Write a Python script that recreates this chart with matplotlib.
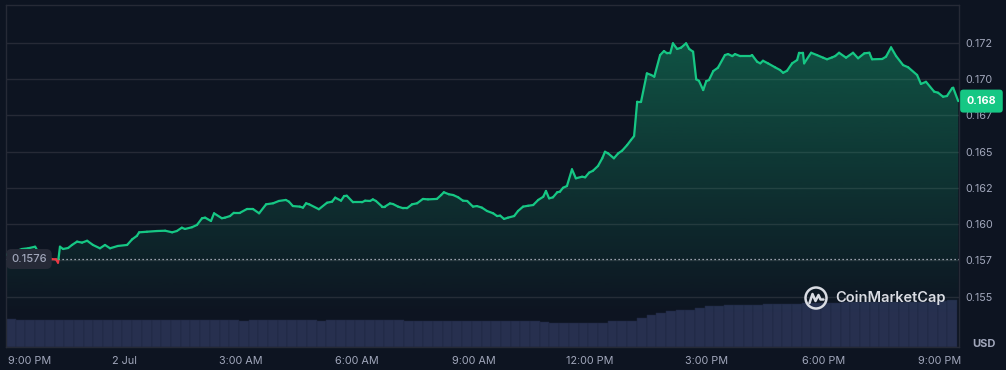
import matplotlib
matplotlib.use('Agg')
import matplotlib.pyplot as plt
from matplotlib.collections import LineCollection
from matplotlib.patches import Ellipse
from matplotlib.lines import Line2D
import matplotlib.colors as mcolors
import numpy as np

# hours since 9:00 PM on 1 Jul
hours = [-0.05, 0.13, 0.36, 0.52, 0.70, 0.75, 0.88, 1.03, 1.13, 1.24,
         1.29, 1.34, 1.42, 1.55, 1.65, 1.78, 1.91, 2.04, 2.19, 2.37,
         2.50, 2.63, 2.83, 3.07, 3.20, 3.32, 3.38, 3.58, 3.84, 4.05,
         4.23, 4.35, 4.48, 4.56, 4.74, 4.87, 5.00, 5.08, 5.23, 5.31,
         5.51, 5.59, 5.72, 5.82, 5.98, 6.16, 6.31, 6.47, 6.65, 6.83,
         6.98, 7.16, 7.24, 7.34, 7.52, 7.60, 7.68, 7.76, 8.01, 8.22,
         8.35, 8.43, 8.58, 8.66, 8.73, 8.89, 8.99, 9.12, 9.20, 9.33,
         9.40, 9.48, 9.64, 9.71, 9.84, 9.92, 10.05, 10.18, 10.28, 10.41,
         10.54, 10.69, 10.82, 11.05, 11.16, 11.23, 11.36, 11.47, 11.60, 11.72,
         11.83, 11.98, 12.08, 12.21, 12.34, 12.50, 12.60, 12.68, 12.78, 12.88,
         13.04, 13.14, 13.27, 13.40, 13.53, 13.66, 13.79, 13.86, 13.94, 14.04,
         14.15, 14.22, 14.30, 14.40, 14.53, 14.63, 14.79, 14.87, 14.97, 15.07,
         15.20, 15.31, 15.38, 15.46, 15.61, 15.72, 15.82, 15.95, 16.05, 16.13,
         16.21, 16.31, 16.46, 16.57, 16.65, 16.80, 16.90, 16.98, 17.06, 17.13,
         17.24, 17.34, 17.47, 17.55, 17.65, 17.73, 17.80, 17.91, 17.99, 18.06,
         18.17, 18.29, 18.47, 18.55, 18.66, 18.73, 18.86, 19.12, 19.17, 19.30,
         19.38, 19.45, 19.58, 19.76, 19.89, 19.97, 20.07, 20.20, 20.33, 20.38,
         20.48, 20.51, 20.69, 20.84, 21.00, 21.10, 21.23, 21.31, 21.41, 21.59,
         21.77, 21.90, 22.06, 22.19, 22.26, 22.52, 22.62, 22.75, 22.88, 23.06,
         23.19, 23.42, 23.52, 23.65, 23.86, 23.96, 24.09, 24.19, 24.32, 24.35,
         24.48]

prices = [0.15788, 0.15806, 0.15829, 0.15834, 0.15845, 0.15822, 0.15802, 0.15775, 0.15759, 0.15758,
          0.15735, 0.15845, 0.15829, 0.15836, 0.15857, 0.15880, 0.15873, 0.15886, 0.15857, 0.15834,
          0.15857, 0.15834, 0.15850, 0.15857, 0.15896, 0.15919, 0.15944, 0.15948, 0.15953, 0.15955,
          0.15944, 0.15953, 0.15976, 0.15967, 0.15979, 0.15995, 0.16041, 0.16045, 0.16022, 0.16075,
          0.16041, 0.16045, 0.16056, 0.16079, 0.16079, 0.16105, 0.16105, 0.16075, 0.16137, 0.16144,
          0.16160, 0.16167, 0.16155, 0.16125, 0.16121, 0.16114, 0.16144, 0.16137, 0.16103, 0.16148,
          0.16155, 0.16183, 0.16162, 0.16194, 0.16196, 0.16151, 0.16151, 0.16151, 0.16162, 0.16160,
          0.16171, 0.16160, 0.16121, 0.16121, 0.16143, 0.16139, 0.16121, 0.16110, 0.16110, 0.16137,
          0.16144, 0.16174, 0.16171, 0.16174, 0.16201, 0.16220, 0.16206, 0.16201, 0.16185, 0.16162,
          0.16160, 0.16121, 0.16125, 0.16114, 0.16091, 0.16075, 0.16056, 0.16059, 0.16036, 0.16045,
          0.16056, 0.16091, 0.16121, 0.16127, 0.16132, 0.16167, 0.16189, 0.16229, 0.16178, 0.16185,
          0.16220, 0.16224, 0.16251, 0.16263, 0.16378, 0.16316, 0.16327, 0.16323, 0.16355, 0.16368,
          0.16401, 0.16454, 0.16499, 0.16488, 0.16454, 0.16488, 0.16506, 0.16545, 0.16580, 0.16607,
          0.16844, 0.16844, 0.17039, 0.17028, 0.17016, 0.17165, 0.17193, 0.17177, 0.17177, 0.17246,
          0.17207, 0.17216, 0.17246, 0.17207, 0.17188, 0.16998, 0.16988, 0.16924, 0.16986, 0.16993,
          0.17055, 0.17078, 0.17165, 0.17172, 0.17158, 0.17172, 0.17158, 0.17158, 0.17165, 0.17119,
          0.17108, 0.17126, 0.17108, 0.17081, 0.17062, 0.17043, 0.17057, 0.17108, 0.17131, 0.17181,
          0.17181, 0.17108, 0.17181, 0.17165, 0.17147, 0.17136, 0.17149, 0.17158, 0.17181, 0.17147,
          0.17181, 0.17143, 0.17177, 0.17181, 0.17136, 0.17138, 0.17154, 0.17218, 0.17158, 0.17096,
          0.17081, 0.17028, 0.16966, 0.16981, 0.16913, 0.16906, 0.16878, 0.16883, 0.16936, 0.16940,
          0.16848]

open_price = 0.1576

# 15-minute volume bars (millions USD)
volume = [0.554, 0.544, 0.534, 0.534, 0.534, 0.534, 0.534, 0.550, 0.540, 0.534,
          0.534, 0.534, 0.534, 0.534, 0.534, 0.534, 0.534, 0.534, 0.534, 0.534,
          0.534, 0.534, 0.534, 0.534, 0.524, 0.534, 0.534, 0.534, 0.534, 0.534,
          0.534, 0.534, 0.514, 0.534, 0.534, 0.534, 0.534, 0.534, 0.534, 0.534,
          0.534, 0.514, 0.528, 0.514, 0.514, 0.514, 0.514, 0.514, 0.514, 0.514,
          0.514, 0.514, 0.514, 0.514, 0.514, 0.500, 0.488, 0.488, 0.488, 0.488,
          0.488, 0.488, 0.514, 0.514, 0.514, 0.574, 0.640, 0.688, 0.714, 0.734,
          0.750, 0.780, 0.814, 0.824, 0.836, 0.848, 0.840, 0.832, 0.854, 0.854,
          0.860, 0.870, 0.880, 0.880, 0.884, 0.890, 0.900, 0.900, 0.900, 0.900,
          0.900, 0.900, 0.900, 0.910, 0.910, 0.910, 0.920, 0.934]

tick_hours = [0, 3, 6, 9, 12, 15, 18, 21, 24]
tick_labels = ['9:00 PM', '2 Jul', '3:00 AM', '6:00 AM', '9:00 AM',
               '12:00 PM', '3:00 PM', '6:00 PM', '9:00 PM']
price_ticks = [0.155, 0.1575, 0.160, 0.1625, 0.165, 0.1675, 0.170, 0.1725]
price_labels = ['0.155', '0.157', '0.160', '0.162', '0.165', '0.167', '0.170', '0.172']

BG = '#0d1421'
GRID = '#262a36'
TEXT = '#a1a7bb'
GREEN = '#16c784'
RED = '#ea3943'
VOL = '#27304f'
XMIN, XMAX = -0.05, 24.50
YMIN, YMAX = 0.15154, 0.17510

plt.rcParams['font.family'] = ['Inter', 'DejaVu Sans']

W, H = 1006, 370
fig = plt.figure(figsize=(W / 100, H / 100), dpi=100, facecolor=BG)
rect = [6 / W, 23 / H, 953 / W, 342 / H]

# volume underneath
ax_vol = fig.add_axes(rect, facecolor=BG)
vol_x = np.arange(len(volume)) * 0.25 + XMIN
ax_vol.bar(vol_x, volume, width=0.25, align='edge', color=VOL,
           edgecolor='#1e2540', linewidth=0.35)
ax_vol.set_xlim(XMIN, XMAX)
ax_vol.set_ylim(0, 6.84)
ax_vol.axis('off')

ax = fig.add_axes(rect, facecolor='none')

# gradient fill under the price line
grad = np.zeros((256, 1, 4))
grad[..., :3] = mcolors.to_rgb(GREEN)
grad[:, 0, 3] = np.linspace(0.40, 0.0, 256)
img = ax.imshow(grad, aspect='auto', origin='upper', zorder=1,
                extent=[XMIN, XMAX, 0.15368, YMAX])
poly = ax.fill_between(hours, prices, YMIN, color='none', linewidth=0)
img.set_clip_path(poly.get_paths()[0], transform=ax.transData)

# line coloured by side of the opening price
segs, cols = [], []
for i in range(len(hours) - 1):
    x0, y0, x1, y1 = hours[i], prices[i], hours[i + 1], prices[i + 1]
    if (y0 - open_price) * (y1 - open_price) < 0:
        t = (open_price - y0) / (y1 - y0)
        xm = x0 + t * (x1 - x0)
        segs.append([(x0, y0), (xm, open_price)])
        cols.append(GREEN if y0 >= open_price else RED)
        segs.append([(xm, open_price), (x1, y1)])
        cols.append(GREEN if y1 >= open_price else RED)
    else:
        segs.append([(x0, y0), (x1, y1)])
        cols.append(GREEN if (y0 + y1) / 2 >= open_price else RED)
lc = LineCollection(segs, colors=cols, linewidths=1.6, capstyle='round',
                    joinstyle='round', zorder=4)
ax.add_collection(lc)

ax.axhline(open_price, color='#c5c9d6', lw=0.9, ls=(0, (1, 2.2)), zorder=3)

ax.set_xlim(XMIN, XMAX)
ax.set_ylim(YMIN, YMAX)

ax.set_yticks(price_ticks)
ax.set_yticklabels(price_labels)
ax.yaxis.tick_right()
ax.yaxis.grid(True, color=GRID, lw=1)
ax.set_axisbelow(True)
ax.set_xticks(tick_hours)
ax.set_xticklabels(tick_labels)
ax.get_xticklabels()[0].set_ha('left')
ax.tick_params(axis='y', length=0, pad=4.3, labelsize=7.8, colors=TEXT)
ax.tick_params(axis='x', length=0, pad=6.5, labelsize=7.8, colors=TEXT)
for sp in ax.spines.values():
    sp.set_color(GRID)
    sp.set_linewidth(1)

# current price tag
ax.annotate(f'{prices[-1]:.3f}', xy=(1, prices[-1]),
            xycoords=('axes fraction', 'data'), xytext=(5.5, 0),
            textcoords='offset points', ha='left', va='center',
            color='white', fontsize=7.8, fontweight='bold',
            bbox=dict(boxstyle='round,pad=0.6,rounding_size=0.3', fc=GREEN, ec='none'),
            annotation_clip=False, zorder=10)

# opening price tag
ax.annotate(f'{open_price:.4f}', xy=(0, open_price),
            xycoords=('axes fraction', 'data'), xytext=(16.5, 0),
            textcoords='offset points', ha='center', va='center',
            color=TEXT, fontsize=8, fontweight='medium',
            bbox=dict(boxstyle='round,pad=0.45,rounding_size=0.5', fc='#262a37', ec='none'),
            annotation_clip=False, zorder=10)

fig.text(984 / W, 1 - 344 / H, 'USD', color=TEXT, fontsize=8,
         fontweight='bold', ha='center', va='center')

# watermark
wm = '#d9dce3'
fig.text(835 / W, 1 - 298 / H, 'CoinMarketCap', color=wm, fontsize=10.5,
         fontweight='semibold', ha='left', va='center')
cx, cy = 816, 298
fig.add_artist(Ellipse((cx / W, 1 - cy / H), 21 / W, 21 / H, fill=False,
                       ec=wm, lw=1.8, transform=fig.transFigure))
mx = [-6.5, -3.5, -0.5, 2.5, 4.5, 7.5]
my = [-5, 4, -3, 3, -1.5, -1.5]
fig.add_artist(Line2D([(cx + a) / W for a in mx], [1 - (cy - b) / H for b in my],
                      color=wm, lw=1.8, solid_joinstyle='round',
                      solid_capstyle='round', transform=fig.transFigure))

fig.savefig('out.png', dpi=100, facecolor=BG)
